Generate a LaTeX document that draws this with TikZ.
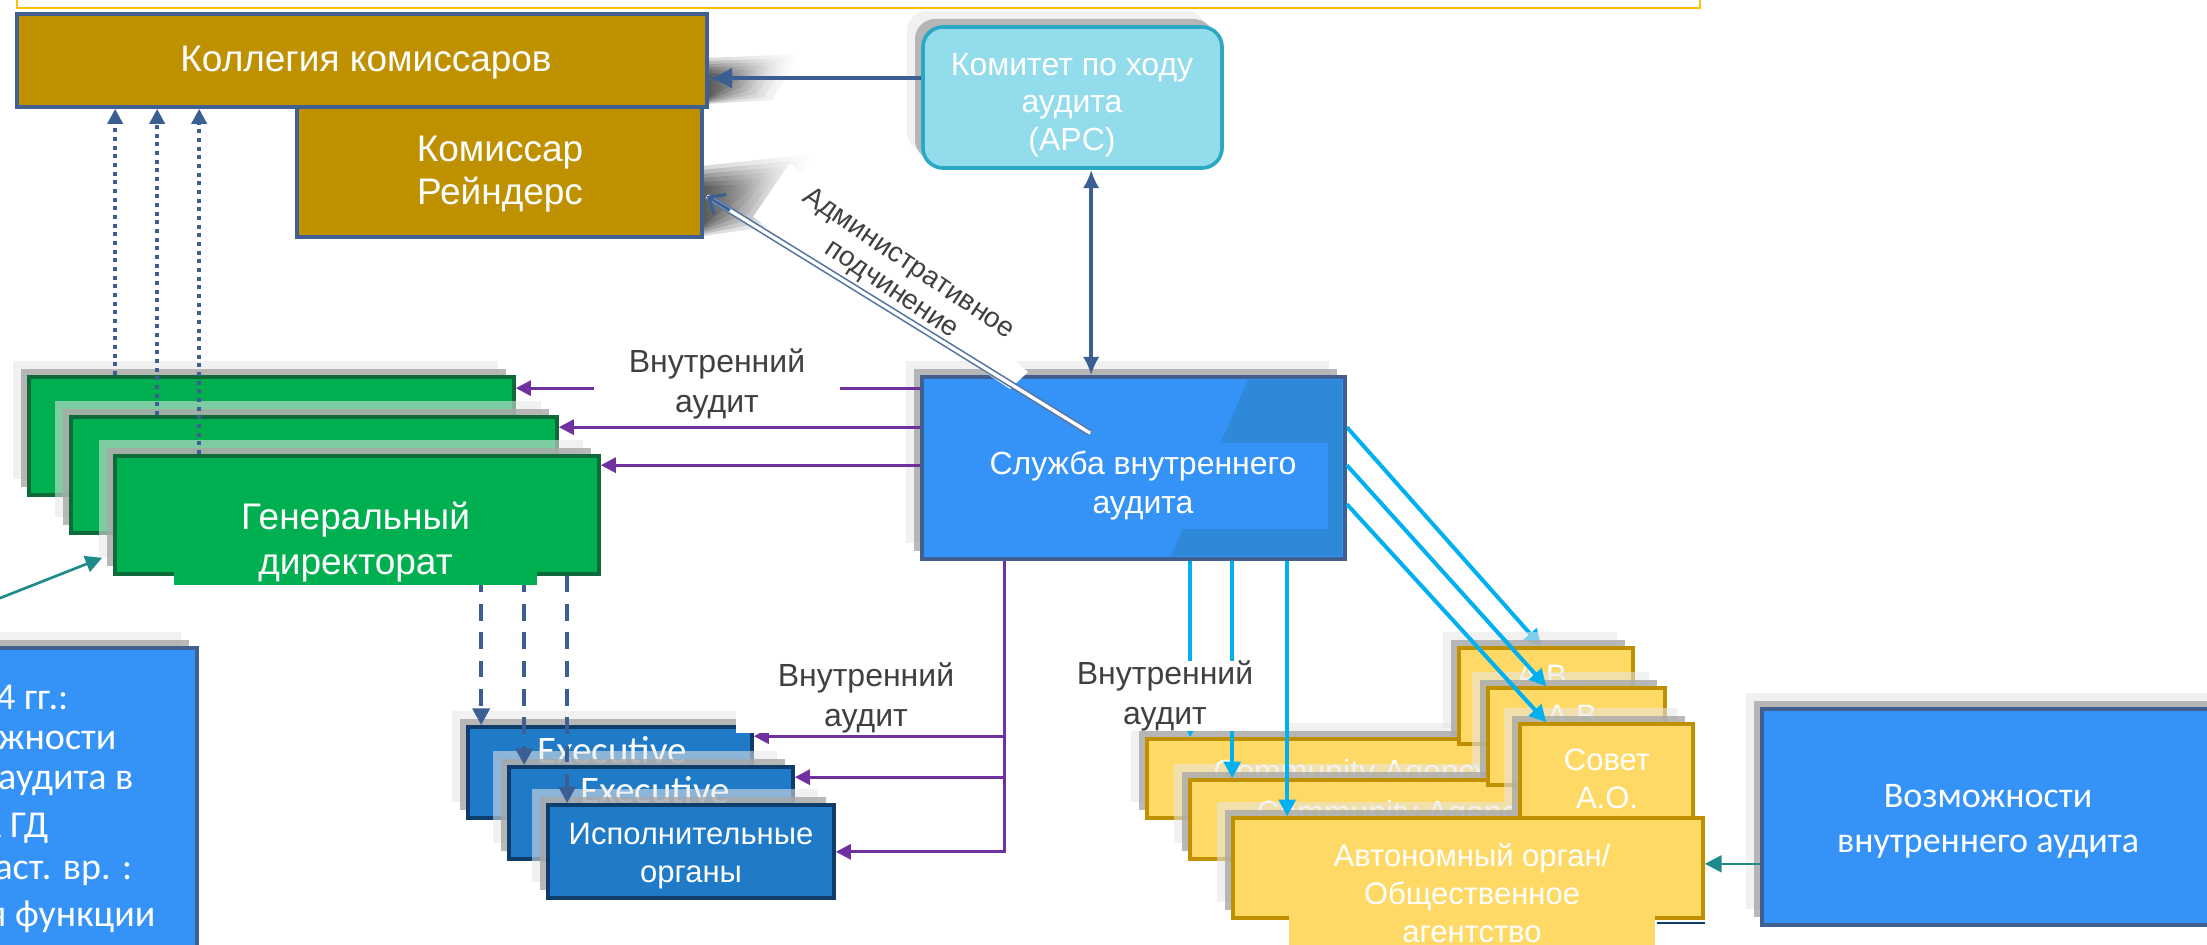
\documentclass[tikz,border=0pt]{standalone}
\usepackage{fontspec}
\setmainfont{Liberation Sans}
\newfontfamily\calfont{Carlito}
\usetikzlibrary{arrows.meta,calc,fit,shadows,backgrounds,fadings}
\definecolor{gold}{HTML}{BF9000}
\definecolor{bordblue}{HTML}{41608F}
\definecolor{apcfill}{HTML}{93DCEB}
\definecolor{apcbord}{HTML}{2AA8C4}
\definecolor{siafill}{HTML}{3593F8}
\definecolor{siadark}{HTML}{2E8AD8}
\definecolor{gfill}{HTML}{00B050}
\definecolor{gbord}{HTML}{0F6A3A}
\definecolor{efill}{HTML}{1F7BC8}
\definecolor{ebord}{HTML}{0E3D6B}
\definecolor{yfill}{HTML}{FFD966}
\definecolor{ybord}{HTML}{C09000}
\definecolor{cpurp}{HTML}{7030A0}
\definecolor{ccyan}{HTML}{00B0F0}
\definecolor{arrblue}{HTML}{3B5F93}
\definecolor{cteal}{HTML}{1F8A8A}
\definecolor{labgray}{HTML}{404040}
\definecolor{topline}{HTML}{FFC000}
\definecolor{shlight}{HTML}{E6E6E6}
\definecolor{shdark}{HTML}{A8A8A8}
\tikzfading[name=fadeoutright,left color=transparent!0,right color=transparent!100]
\tikzset{
  shd/.style={general shadow={fill=shlight,draw=none,fill opacity=.55,shadow xshift=-4.8pt,shadow yshift=4.8pt},
              general shadow={fill=shdark,draw=none,fill opacity=.8,shadow xshift=-2.4pt,shadow yshift=2.4pt}},
  boxbase/.style={inner sep=0pt,line width=1.1pt},
  kbox/.style={boxbase,fill=gold,draw=bordblue},
  apcbox/.style={boxbase,fill=apcfill,draw=apcbord,rounded corners=6pt,shd},
  siabox/.style={boxbase,fill=siafill,draw=bordblue,shd},
  gbox/.style={boxbase,fill=gfill,draw=gbord,shd},
  ebox/.style={boxbase,fill=efill,draw=ebord,shd},
  ybox/.style={boxbase,fill=yfill,draw=ybord,shd},
  bbox/.style={boxbase,fill=siafill,draw=bordblue,shd},
  wtxt/.style={text=white,align=center,inner sep=0pt},
  kt/.style={wtxt,font=\fontsize{11.1pt}{12.9pt}\selectfont},
  apct/.style={wtxt,font=\fontsize{9.6pt}{11.3pt}\selectfont},
  gt/.style={wtxt,font=\fontsize{11.1pt}{13.5pt}\selectfont},
  siat/.style={wtxt,font=\fontsize{9.6pt}{11.7pt}\selectfont},
  labt/.style={text=labgray,align=center,fill=white,inner sep=0pt,font=\fontsize{9.6pt}{12pt}\selectfont},
  et/.style={wtxt,font=\fontsize{9.3pt}{11.2pt}\selectfont},
  exect/.style={wtxt,font=\calfont\fontsize{11.7pt}{13pt}\selectfont},
  yt/.style={wtxt,font=\fontsize{9.3pt}{11.5pt}\selectfont},
  vt/.style={wtxt,font=\calfont\fontsize{10.8pt}{13.5pt}\selectfont},
  lt/.style={text=white,inner sep=0pt,anchor=east,font=\calfont\fontsize{11.4pt}{13.5pt}\selectfont},
  admt/.style={text=labgray,align=center,inner sep=0pt,rotate=-34,font=\fontsize{8.4pt}{9.3pt}\selectfont},
  softshadow/.style={fill=black,path fading=fadeoutright,fill opacity=.16},
  apcarr/.style={draw=arrblue,line width=1.3pt,-{Latex[length=7pt,width=6.5pt]}},
  dblarr/.style={draw=arrblue,line width=1.1pt,{Latex[length=5.5pt,width=5pt]}-{Latex[length=5.5pt,width=5pt]}},
  dotarr/.style={draw=arrblue,line width=1.2pt,dash pattern=on 1.2pt off 1.4pt,-{Triangle[length=4.5pt,width=4.5pt]}},
  dasharr/.style={draw=arrblue,line width=1.3pt,dash pattern=on 5pt off 3.5pt,-{Triangle[length=5pt,width=5pt]}},
  purparr/.style={draw=cpurp,line width=0.9pt,-{Triangle[length=4.5pt,width=4.5pt]}},
  cyanarr/.style={draw=ccyan,line width=1.2pt,-{Triangle[length=5pt,width=5pt]}},
  tealarr/.style={draw=cteal,line width=0.8pt,-{Triangle[length=5pt,width=5pt]}},
  admline/.style={draw=arrblue!85,double=white,line width=0.5pt,double distance=1pt},
}
\begin{document}
\begin{tikzpicture}[x=0.3pt,y=-0.3pt]
\useasboundingbox (0,0) rectangle (2207,945);
\clip (0,0) rectangle (2207,945);

% frame edge at the top
\draw[topline,line width=0.7pt] (17,-5) -- (17,8) -- (1700,8) -- (1700,-5);

% soft perspective shadows
\foreach \k in {0,...,5}{
  \fill[softshadow] (707,58+3*\k) -- (800-10*\k,54+4*\k) -- (772-8*\k,100-3*\k) -- (707,104-\k) -- cycle;
  \fill[softshadow] (702,166+4*\k) -- (812-11*\k,154+6*\k) -- (775-9*\k,226-4*\k) -- (702,236-2*\k) -- cycle;
}

% commissioners
\node[kbox,fit={(297,107) (702,237)}] (K2) {};
\node[kbox,fit={(17,14) (707,107)}] (K1) {};
\node[kt] (K1t) at (366,63) {Коллегия комиссаров};
\node[kt] (K2t) at (500,174) {Комиссар\\Рейндерс};

% audit progress committee
\node[apcbox,fit={(923,27) (1222,168)}] (APC) {};
\node[apct] (APCt) at (1072,105) {Комитет по ходу\\аудита\\(APC)};

% left blue box (cut by the edge)
\node[bbox,fit={(-20,648) (197,990)}] (L) {};
\node[lt] (L1) at (69,697) {4 гг.:};
\node[lt] (L2) at (117,740) {ожности};
\node[lt] (L3) at (134,783) {аудита в};
\node[lt] (L4) at (49,828) {А ГД};
\node[lt] (L5) at (133,873) {наст. вр. :};
\node[lt] (L6) at (156,917) {я функции};

% directorates
\node[gbox,fit={(29,377) (514,495)}] (G0) {};
\node[gbox,fit={(71,417) (557,533)}] (G1) {};
\node[gbox,fit={(115,456) (599,574)}] (G2) {};

% executive bodies
\node[ebox,fit={(468,727) (752,818)}] (E0) {};
\node[exect] (E0t) at (612,750) {Executive};
\node[ebox,fit={(509,767) (793,859)}] (E1) {};
\node[exect] (E1t) at (655,790) {Executive};
\node[ebox,fit={(548,805) (834,898)}] (E2) {};
\node[et] (E2t) at (691,856) {Исполнительные\\органы};

% internal audit service
\node[siabox,fit={(922,377) (1345,559)}] (SIA) {};
\fill[siadark] (1248,380) -- (1342,380) -- (1342,556) -- (1171,556) -- cycle;
\node[siat,fill=siafill,minimum width=111pt,minimum height=25.8pt] (SIAt) at (1143,486) {Служба внутреннего\\аудита};

% agencies
\node[ybox,fit={(1147,739) (1617,818)}] (W0) {};
\node[yt,font=\fontsize{9.6pt}{11.5pt}\selectfont] (W0t) at (1352,774) {Community Agency};
\node[ybox,fit={(1459,648) (1633,744)}] (S0) {};
\node[yt] (S0t) at (1546,676) {A.B.};
% first diagonal arrow lies under the shadows of the agencies
\begin{scope}[on background layer]
\draw[cyanarr] ($(SIA.north east)+(0,52)$) -- ($(S0.north west)+(84,0)$);
\end{scope}
\node[ybox,fit={(1190,780) (1660,859)}] (W1) {};
\node[yt,font=\fontsize{9.6pt}{11.5pt}\selectfont] (W1t) at (1395,815) {Community Agency};
\node[ybox,fit={(1488,688) (1665,785)}] (S1) {};
\node[yt] (S1t) at (1576,716) {A.B.};
\node[ybox,fit={(1233,818) (1703,918)}] (W2) {};
\node[ybox,fit={(1520,724) (1693,818)}] (S2) {};
\node[yt] (S2t) at (1607,779) {Совет\\А.О.};
\node[yt,fill=yfill,minimum width=109.8pt,minimum height=39pt] (W2t) at (1472,893) {Автономный орган/\\Общественное\\агентство};
\draw[ebord,line width=0.6pt] ($(W2.south east)+(-48,3)$) -- ($(W2.south east)+(0,3)$);

% capabilities box
\node[bbox,fit={(1762,709) (2235,925)}] (V) {};
\node[vt] (Vt) at (1988,821) {Возможности\\внутреннего аудита};
\draw[tealarr] ($(V.south west)+(0,-63)$) coordinate (vsrc) -- (W2.east |- vsrc);
\coordinate (tealsrc) at (-20,606);
\draw[tealarr] (tealsrc) -- ($(G2.south west)+(-11,-18)$);

% cyan arrows to the agencies
\coordinate (c1) at ($(SIA.south west)+(270,0)$);
\coordinate (c2) at ($(SIA.south west)+(312,0)$);
\coordinate (c3) at ($(SIA.south west)+(367,0)$);
\draw[cyanarr] (c1) -- (c1 |- W0.north);
\draw[cyanarr] (c2) -- (c2 |- W1.north);
\draw[cyanarr] (c3) -- (c3 |- W2.north);
\draw[cyanarr] ($(SIA.north east)+(0,90)$) -- ($(S1.north west)+(60,0)$);
\draw[cyanarr] ($(SIA.north east)+(0,129)$) -- ($(S2.north west)+(28,0)$);
\node[labt,minimum width=72pt] (lab3) at (1165,696) {Внутренний\\аудит};

% dotted arrows up to the college
\coordinate (a1) at ($(G0.north west)+(88,0)$);
\coordinate (a2) at ($(G1.north west)+(88,0)$);
\coordinate (a3) at ($(G2.north west)+(86,0)$);
\draw[dotarr] (a1) -- (a1 |- K1.south);
\draw[dotarr] (a2) -- (a2 |- K1.south);
\draw[dotarr] (a3) -- (a3 |- K1.south);

% dashed arrows down to the executive bodies
\coordinate (b1) at ($(G2.south west)+(368,0)$);
\coordinate (b2) at ($(G2.south west)+(411,0)$);
\coordinate (b3) at ($(G2.south west)+(454,0)$);
\draw[dasharr] (b1) -- (b1 |- E0.north);
\draw[dasharr] (b2) -- (b2 |- E1.north);
\draw[dasharr] (b3) -- (b3 |- E2.north);
\node[gt,fill=gfill,minimum width=108.9pt,minimum height=25.5pt] (G2t) at (355.5,542.5) {Генеральный\\директорат};

% purple arrows
\draw[purparr] ($(SIA.north west)+(0,13)$) -- ($(G0.north east)+(0,13)$);
\draw[purparr] ($(SIA.north west)+(0,52)$) -- ($(G1.north east)+(0,12)$);
\draw[purparr] ($(SIA.north west)+(0,90)$) -- ($(G2.north east)+(0,11)$);
\node[labt,minimum width=73.8pt] (lab1) at (717,384) {Внутренний\\аудит};
\coordinate (pv) at ($(SIA.south west)+(84,0)$);
\coordinate (e0p) at ($(E0.north east)+(0,11)$);
\coordinate (e1p) at ($(E1.north east)+(0,12)$);
\coordinate (e2p) at ($(E2.south east)+(0,-48)$);
\draw[purparr] (pv) |- (e2p);
\draw[purparr] (pv |- e0p) -- (e0p);
\draw[purparr] (pv |- e1p) -- (e1p);
\node[labt,minimum width=78pt] (lab2) at (866,698) {Внутренний\\аудит};

% committee arrows
\draw[apcarr] ($(APC.north west)+(0,53)$) coordinate (apcl) -- (K1.east |- apcl);
\draw[dblarr] ($(APC.south west)+(170,0)$) coordinate (apcb) -- (apcb |- SIA.north);

% administrative subordination
\fill[white] (790,163) -- (1028,372) -- (1010,389) -- (753,217) -- cycle;
\coordinate (admA) at ($(SIA.north west)+(170,58)$);
\coordinate (admB) at ($(K2.north east)+(3,91)$);
\draw[admline] (admA) -- (admB);
\draw[arrblue,line width=0.9pt,-{Straight Barb[length=4pt,width=7pt]}] ($(admB)!0.06!(admA)$) -- (admB);
\node[admt] (adm) at (900,277) {Административное\\подчинение};
\end{tikzpicture}
\end{document}
